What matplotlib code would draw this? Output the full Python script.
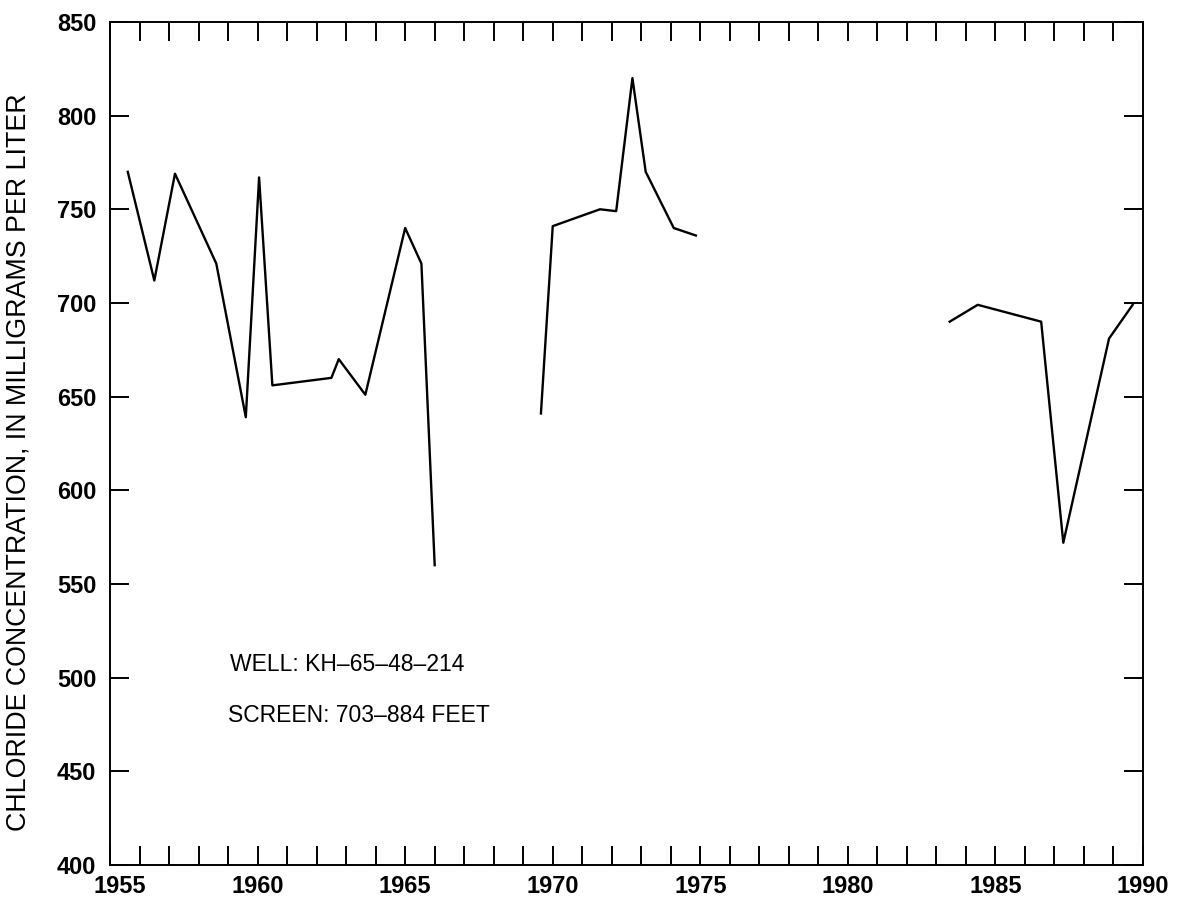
#!/usr/bin/env python3
# -*- coding: utf-8 -*-
"""Chloride concentration history for well KH-65-48-214."""

import numpy as np
import matplotlib.pyplot as plt
from matplotlib.ticker import MultipleLocator
from matplotlib.transforms import ScaledTranslation

# Record broken into three sampling periods (gaps between them)
years_a = [1955.6, 1956.5, 1957.2, 1958.6, 1959.6, 1960.05, 1960.5,
           1962.5, 1962.75, 1963.65, 1965.0, 1965.55, 1966.0]
chloride_a = [770, 712, 769, 721, 639, 767, 656, 660, 670, 651, 740, 721, 560]

years_b = [1969.6, 1970.0, 1971.6, 1972.15, 1972.7, 1973.15, 1974.1, 1974.85]
chloride_b = [641, 741, 750, 749, 820, 770, 740, 736]

years_c = [1983.45, 1984.4, 1986.55, 1987.3, 1988.85, 1989.65]
chloride_c = [690, 699, 690, 572, 681, 699]

x_major = np.arange(1955, 1991, 5)
y_major = np.arange(400, 851, 50)

plt.rcParams['font.family'] = ['Liberation Sans', 'DejaVu Sans']

fig = plt.figure(figsize=(11.77, 9), dpi=100)
ax = fig.add_axes([0.0935, 0.039, 0.8776, 0.9366])

for xs, ys in [(years_a, chloride_a), (years_b, chloride_b), (years_c, chloride_c)]:
    ax.plot(xs, ys, color='black', lw=1.7)

ax.set_xlim(1955, 1990)
ax.set_ylim(400, 850)
ax.set_xticks(x_major)
ax.xaxis.set_minor_locator(MultipleLocator(1))
ax.set_yticks(y_major)

ax.tick_params(axis='both', which='both', direction='in', top=True, right=True,
               width=1.4, length=14)
ax.tick_params(axis='x', which='major', labelsize=17, pad=7)
ax.tick_params(axis='y', which='major', labelsize=17, pad=10)
for lab in ax.get_xticklabels() + ax.get_yticklabels():
    lab.set_fontweight('bold')
for s in ax.spines.values():
    s.set_linewidth(1.4)

# nudge the first year label right so it clears the "400"
first = ax.get_xticklabels()[0]
first.set_transform(first.get_transform() + ScaledTranslation(0.1, 0, fig.dpi_scale_trans))

ax.set_ylabel('CHLORIDE CONCENTRATION, IN MILLIGRAMS PER LITER', fontsize=19.3)
ax.yaxis.set_label_coords(-0.0765, 0.478)

ax.text(1959.07, 507, 'WELL: KH\u201365\u201348\u2013214', fontsize=16.5, va='center')
ax.text(1959.0, 480, 'SCREEN: 703\u2013884 FEET', fontsize=16.5, va='center')

plt.savefig('out.png', dpi=100)
